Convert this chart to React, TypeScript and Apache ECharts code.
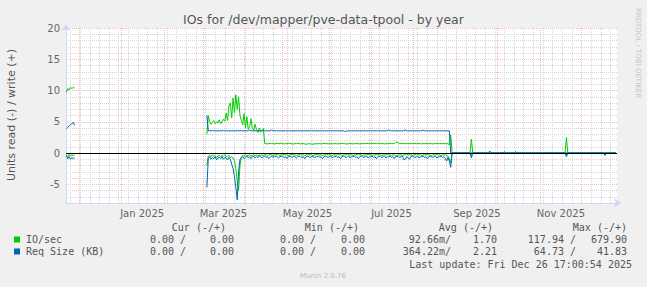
import React, { useEffect, useRef } from "react";
import * as echarts from "echarts";

// ---------- time frame ----------
const GRAPH_START = Date.UTC(2024, 10, 21, 17, 0, 54);
const GRAPH_END = Date.UTC(2025, 11, 26, 17, 0, 54);
const DAY = 86400000;
const d = (s: string) => Date.parse(s + "T00:00:00Z");

// ---------- texts ----------
const TITLE = "IOs for /dev/mapper/pve-data-tpool - by year";
const Y_NAME = "Units read (-) / write (+)";
const SIDE_TEXT = "RRDTOOL / TOBI OETIKER";
const FOOTER = "Munin 2.0.76";
const LAST_UPDATE = "Last update: Fri Dec 26 17:00:54 2025";

// ---------- axes ----------
const Y_MIN = -8;
const Y_MAX = 20;
const Y_MAJOR = [-5, 5, 10, 15, 20];
const MONTH_TICKS = [
  "2024-12-01", "2025-01-01", "2025-02-01", "2025-03-01", "2025-04-01", "2025-05-01", "2025-06-01",
  "2025-07-01", "2025-08-01", "2025-09-01", "2025-10-01", "2025-11-01", "2025-12-01",
];
const MONTH_LABELS: [string, string][] = [
  ["2025-01-16", "Jan 2025"],
  ["2025-03-16", "Mar 2025"],
  ["2025-05-16", "May 2025"],
  ["2025-07-16", "Jul 2025"],
  ["2025-09-16", "Sep 2025"],
  ["2025-11-16", "Nov 2025"],
];

// ---------- series: segment A (Nov 2024), daily ----------
const SEG_A_START = "2024-11-22";
const IO_WRITE_A = [9.7, 10.3, 10.1, 10.5, 10.3, 10.5, 10.4];
const IO_READ_A = [-0.3, -0.6, -0.2, -0.5, -0.3, -0.4, -0.3];
const REQ_WRITE_A = [3.9, 4.1, 4.35, 4.55, 4.7, 4.9, 4.4];
const REQ_READ_A = [-0.4, -0.9, -0.6, -1.0, -0.7, -0.9, -0.8];
const GAP_DATE = "2024-12-15";

// ---------- series: segment B (Mar - Aug 2025), daily ----------
const SEG_B_START = "2025-03-04";
const IO_WRITE_B = [
  3.0, 6.0, 5.0, 4.6, 4.9, 5.2, 4.7, 5.0, 4.8, 5.3,
  4.7, 5.0, 5.4, 5.1, 6.4, 5.2, 7.6, 8.0, 5.6, 8.8,
  6.4, 9.3, 7.0, 9.0, 6.0, 5.2, 4.5, 6.3, 4.0, 5.8,
  3.8, 4.2, 5.5, 3.9, 3.6, 4.6, 3.7, 3.3, 4.0, 3.4,
  3.6, 3.9, 1.5, 1.5, 1.45, 1.5, 1.55, 1.5, 1.5, 1.45,
  1.5, 1.55, 1.5, 1.5, 1.6, 1.5, 1.45, 1.5, 1.5, 1.5,
  1.55, 1.5, 1.45, 1.45, 1.5, 1.5, 1.55, 1.5, 1.45, 1.5,
  1.5, 1.45, 1.4, 1.45, 1.5, 1.45, 1.45, 1.4, 1.45, 1.5,
  1.45, 1.5, 1.5, 1.45, 1.5, 1.55, 1.5, 1.5, 1.45, 1.5,
  1.5, 1.45, 1.5, 1.5, 1.5, 1.45, 1.5, 1.5, 1.55, 1.5,
  1.5, 1.45, 1.45, 1.5, 1.5, 1.5, 1.45, 1.5, 1.5, 1.5,
  1.5, 1.45, 1.5, 1.5, 1.5, 1.5, 1.55, 1.5, 1.5, 1.5,
  1.5, 1.55, 1.5, 1.5, 1.5, 1.6, 1.5, 1.5, 1.5, 1.45,
  1.5, 1.5, 1.5, 1.55, 1.5, 1.5, 1.5, 1.7, 1.75, 1.6,
  1.5, 1.5, 1.55, 1.5, 1.5, 1.5, 1.5, 1.5, 1.5, 1.5,
  1.55, 1.5, 1.5, 1.5, 1.5, 1.5, 1.45, 1.5, 1.5, 1.5,
  1.5, 1.5, 1.5, 1.5, 1.45, 1.5, 1.5, 1.5, 1.5, 1.5,
  1.5, 1.5, 1.5, 1.5, 1.5, 1.5, 1.3, 2.9,
];
const IO_READ_B = [
  -2.0, -0.5, -0.4, -0.6, -0.3, -0.5, -0.4, -0.7, -0.5, -0.4,
  -0.6, -0.4, -0.5, -0.3, -0.6, -0.5, -0.4, -0.7, -0.6, -0.8,
  -1.2, -2.5, -4.5, -6.0, -2.0, -0.6, -0.4, -0.5, -0.3, -0.5,
  -0.4, -0.3, -0.5, -0.4, -0.3, -0.4, -0.3, -0.5, -0.3, -0.4,
  -0.3, -0.4, -0.3, -0.3, -0.4, -0.3, -0.2, -0.3, -0.4, -0.3,
  -0.3, -0.2, -0.3, -0.4, -0.3, -0.3, -0.2, -0.3, -0.3, -0.4,
  -0.3, -0.3, -0.2, -0.3, -0.3, -0.4, -0.3, -0.3, -0.2, -0.3,
  -0.3, -0.4, -0.3, -0.2, -0.3, -0.3, -0.3, -0.4, -0.3, -0.3,
  -0.2, -0.3, -0.3, -0.3, -0.4, -0.3, -0.3, -0.2, -0.3, -0.3,
  -0.3, -0.4, -0.3, -0.3, -0.3, -0.2, -0.3, -0.3, -0.4, -0.3,
  -0.3, -0.3, -0.2, -0.3, -0.3, -0.3, -0.4, -0.3, -0.3, -0.2,
  -0.3, -0.3, -0.3, -0.4, -0.3, -0.3, -0.3, -0.2, -0.3, -0.3,
  -0.4, -0.3, -0.3, -0.3, -0.2, -0.3, -0.3, -0.4, -0.3, -0.3,
  -0.3, -0.2, -0.3, -0.3, -0.4, -0.3, -0.3, -0.5, -0.4, -0.3,
  -0.3, -0.3, -0.4, -0.3, -0.3, -0.2, -0.3, -0.3, -0.3, -0.4,
  -0.3, -0.3, -0.2, -0.3, -0.3, -0.3, -0.4, -0.3, -0.3, -0.3,
  -0.2, -0.3, -0.3, -0.4, -0.3, -0.3, -0.3, -0.2, -0.3, -0.3,
  -0.4, -0.3, -0.3, -0.3, -0.4, -0.5, -0.9, -1.6,
];
const REQ_WRITE_B = [
  6.0, 3.55, 3.55, 3.55, 3.6, 3.55, 3.55, 3.55, 3.55, 3.55,
  3.55, 3.55, 3.6, 3.55, 3.55, 3.55, 3.55, 3.55, 3.55, 3.55,
  3.55, 3.55, 3.55, 3.55, 3.6, 3.55, 3.55, 3.55, 3.55, 3.55,
  3.55, 3.7, 3.55, 3.55, 3.55, 3.55, 3.55, 3.55, 3.55, 3.55,
  3.55, 3.55, 3.55, 3.55, 3.55, 3.55, 3.55, 3.7, 3.55, 3.55,
  3.55, 3.55, 3.55, 3.55, 3.55, 3.55, 3.55, 3.55, 3.55, 3.55,
  3.55, 3.55, 3.55, 3.55, 3.55, 3.55, 3.55, 3.55, 3.55, 3.55,
  3.55, 3.55, 3.55, 3.55, 3.55, 3.55, 3.6, 3.55, 3.55, 3.55,
  3.55, 3.55, 3.55, 3.55, 3.55, 3.55, 3.55, 3.55, 3.55, 3.55,
  3.55, 3.55, 3.55, 3.55, 3.55, 3.55, 3.55, 3.55, 3.55, 3.55,
  3.45, 3.5, 3.55, 3.55, 3.55, 3.55, 3.55, 3.55, 3.55, 3.55,
  3.55, 3.55, 3.55, 3.55, 3.55, 3.55, 3.55, 3.55, 3.55, 3.55,
  3.55, 3.55, 3.55, 3.55, 3.55, 3.55, 3.55, 3.55, 3.55, 3.55,
  3.55, 3.55, 3.7, 3.55, 3.55, 3.55, 3.55, 3.55, 3.55, 3.55,
  3.55, 3.55, 3.55, 3.55, 3.7, 3.55, 3.55, 3.55, 3.55, 3.55,
  3.55, 3.55, 3.55, 3.55, 3.55, 3.55, 3.55, 3.65, 3.55, 3.55,
  3.55, 3.55, 3.55, 3.55, 3.55, 3.55, 3.55, 3.55, 3.55, 3.55,
  3.55, 3.55, 3.55, 3.55, 3.55, 3.55, 3.55, 0.0,
];
const REQ_READ_B = [
  -5.5, -0.8, -0.6, -1.0, -0.7, -0.9, -0.6, -1.1, -0.8, -0.7,
  -0.9, -0.6, -1.0, -0.7, -0.8, -1.1, -0.7, -1.0, -1.8, -2.5,
  -3.8, -5.5, -7.5, -3.0, -1.0, -0.8, -0.6, -0.9, -0.7, -0.5,
  -0.7, -0.6, -0.9, -0.6, -0.5, -0.8, -0.6, -0.7, -0.5, -0.6,
  -0.8, -0.6, -0.5, -0.7, -0.6, -0.9, -0.6, -0.5, -0.7, -0.6,
  -0.5, -0.6, -0.8, -0.6, -0.5, -0.6, -0.7, -0.6, -0.9, -0.6,
  -0.5, -0.6, -0.7, -0.5, -0.6, -0.8, -0.6, -0.5, -0.6, -0.7,
  -0.6, -0.9, -0.6, -0.5, -0.6, -0.7, -0.6, -0.5, -0.8, -0.6,
  -0.6, -0.5, -0.7, -0.6, -0.9, -0.6, -0.5, -0.6, -0.7, -0.6,
  -0.5, -0.8, -0.6, -0.6, -0.5, -0.7, -0.6, -0.9, -0.6, -0.5,
  -0.6, -0.7, -0.6, -0.5, -0.8, -0.6, -0.6, -0.5, -0.7, -0.6,
  -0.9, -0.6, -0.5, -0.6, -0.7, -0.6, -0.5, -0.8, -0.6, -0.6,
  -0.5, -0.7, -0.6, -0.9, -0.6, -0.5, -0.6, -0.7, -0.6, -0.5,
  -0.8, -0.6, -0.6, -0.5, -0.7, -0.6, -0.9, -0.6, -0.5, -0.6,
  -0.7, -0.6, -0.5, -1.1, -1.0, -0.6, -0.7, -1.0, -0.6, -0.5,
  -0.6, -0.7, -0.6, -0.5, -0.8, -0.6, -0.6, -0.5, -0.7, -0.6,
  -0.9, -0.6, -0.5, -0.6, -0.7, -0.6, -0.5, -0.8, -0.6, -0.6,
  -0.5, -0.7, -0.6, -0.8, -1.3, -0.7, -1.3, -2.3,
];

// ---------- series: sparse tail (Aug - Dec 2025) ----------
const IO_WRITE_TAIL: [string, number][] = [
  ["2025-08-29", 0], ["2025-09-11", 0], ["2025-09-12", 2.2], ["2025-09-13", 0],
  ["2025-11-19", 0], ["2025-11-20", 2.5], ["2025-11-21", 0], ["2025-12-26", 0],
];
const IO_READ_TAIL: [string, number][] = [
  ["2025-08-29", 0], ["2025-09-11", 0], ["2025-09-12", -0.4], ["2025-09-13", 0],
  ["2025-11-19", 0], ["2025-11-20", -0.3], ["2025-11-21", 0], ["2025-12-26", 0],
];
const REQ_WRITE_TAIL: [string, number][] = [
  ["2025-09-24", 0], ["2025-09-25", 0.25], ["2025-09-26", 0.2], ["2025-09-27", 0],
  ["2025-10-05", 0], ["2025-10-06", 0.2], ["2025-10-07", 0],
  ["2025-10-13", 0], ["2025-10-14", 0.25], ["2025-10-15", 0], ["2025-12-26", 0],
];
const REQ_READ_TAIL: [string, number][] = [
  ["2025-08-29", 0], ["2025-09-11", 0], ["2025-09-12", -0.8], ["2025-09-13", 0],
  ["2025-11-19", 0], ["2025-11-20", -0.6], ["2025-11-21", 0],
  ["2025-12-17", 0], ["2025-12-18", -0.4], ["2025-12-19", 0], ["2025-12-26", 0],
];

// ---------- legend ----------
const LEGEND_HEADERS = ["Cur (-/+)", "Min (-/+)", "Avg (-/+)", "Max (-/+)"];
const LEGEND_ROWS = [
  { name: "IO/sec", color: "#00CC00", stats: [["0.00 /", "0.00"], ["0.00 /", "0.00"], ["92.66m/", "1.70"], ["117.94 /", "679.90"]] },
  { name: "Req Size (KB)", color: "#0066B3", stats: [["0.00 /", "0.00"], ["0.00 /", "0.00"], ["364.22m/", "2.21"], ["64.73 /", "41.83"]] },
];

// ---------- layout ----------
const W = 647;
const H = 287;
const GRID = { left: 66, top: 28, width: 551, height: 175 };
const SANS = '"DejaVu Sans", sans-serif';
const MONO = '"DejaVu Sans Mono", monospace';
const HEADER_RIGHT = [226, 359, 493, 627];
const LEFT_RIGHT = [186, 316, 451, 576];
const VALUE_RIGHT = [234, 365, 497, 627];
const ROW_Y = [239.5, 251.5];
const MINOR_GRID = "#d6d6d6";
const MAJOR_GRID = "#f5bcbc";

const daily = (start: string, vals: number[]) => vals.map((v, i) => [d(start) + i * DAY, v]);
const sparse = (pts: [string, number][]) => pts.map(([s, v]) => [d(s), v]);
const build = (a: number[], b: number[], tail: [string, number][]) => [
  ...daily(SEG_A_START, a),
  [d(GAP_DATE), null],
  ...daily(SEG_B_START, b),
  ...sparse(tail),
];

function weeklyLines() {
  const out: number[] = [];
  for (let t = d("2024-11-25"); t < GRAPH_END; t += 7 * DAY) out.push(t);
  return out;
}

export default function App() {
  const ref = useRef<HTMLDivElement>(null);
  useEffect(() => {
    const el = ref.current!;
    const chart = echarts.init(el, null, { renderer: "svg" });

    const labelMap: Record<number, string> = {};
    MONTH_LABELS.forEach(([s, l]) => (labelMap[d(s)] = l));

    const gridMarks: any[] = [
      ...weeklyLines().map((t) => ({ xAxis: t, lineStyle: { color: MINOR_GRID, type: [1, 1], width: 1 } })),
      ...MONTH_TICKS.map((s) => ({ xAxis: d(s), lineStyle: { color: MAJOR_GRID, type: [1, 1], width: 1 } })),
      ...Y_MAJOR.map((v) => ({ yAxis: v, lineStyle: { color: MAJOR_GRID, type: [1, 1], width: 1 } })),
    ];

    const lineSeries = (name: string, color: string, data: any[], extra: any = {}) => ({
      type: "line",
      name,
      data,
      showSymbol: false,
      symbol: "none",
      connectNulls: false,
      lineStyle: { color, width: 1 },
      itemStyle: { color },
      silent: true,
      z: 2,
      ...extra,
    });

    const graphic: any[] = [
      { type: "text", x: W / 2, y: 19, style: { text: TITLE, fill: "#555", fontSize: 12.5, fontFamily: SANS, align: "center", verticalAlign: "middle" } },
      { type: "text", x: 11, y: 115, rotation: Math.PI / 2, style: { text: Y_NAME, fill: "#555", fontSize: 11, fontFamily: SANS, align: "center", verticalAlign: "middle" } },
      { type: "text", x: 638, y: 53, rotation: -Math.PI / 2, style: { text: SIDE_TEXT, fill: "#c4c4c4", fontSize: 7, fontFamily: SANS, align: "center", verticalAlign: "middle" } },
      { type: "text", x: 323, y: 276, style: { text: FOOTER, fill: "#bbbbbb", fontSize: 7, fontFamily: SANS, align: "center", verticalAlign: "middle" } },
      { type: "text", x: 632, y: 264, style: { text: LAST_UPDATE, fill: "#555", fontSize: 10, fontFamily: MONO, align: "right", verticalAlign: "middle" } },
    ];
    LEGEND_HEADERS.forEach((h, i) =>
      graphic.push({ type: "text", x: HEADER_RIGHT[i], y: 227.5, style: { text: h, fill: "#555", fontSize: 10, fontFamily: MONO, align: "right", verticalAlign: "middle" } })
    );
    LEGEND_ROWS.forEach((row, r) => {
      const y = ROW_Y[r];
      graphic.push({ type: "rect", shape: { x: 14, y: y - 3, width: 6, height: 6 }, style: { fill: row.color } });
      graphic.push({ type: "text", x: 26, y, style: { text: row.name, fill: "#555", fontSize: 10, fontFamily: MONO, align: "left", verticalAlign: "middle" } });
      row.stats.forEach(([a, b], i) => {
        graphic.push({ type: "text", x: LEFT_RIGHT[i], y, style: { text: a, fill: "#555", fontSize: 10, fontFamily: MONO, align: "right", verticalAlign: "middle" } });
        graphic.push({ type: "text", x: VALUE_RIGHT[i], y, style: { text: b, fill: "#555", fontSize: 10, fontFamily: MONO, align: "right", verticalAlign: "middle" } });
      });
    });

    chart.setOption({
      animation: false,
      backgroundColor: "#F0F0F0",
      grid: { ...GRID, show: true, backgroundColor: "#FFFFFF", borderWidth: 0, containLabel: false },
      xAxis: {
        type: "value",
        min: GRAPH_START,
        max: GRAPH_END,
        axisLine: {
          show: true,
          onZero: false,
          lineStyle: { color: "#CFD6F8", width: 1 },
          symbol: ["none", "arrow"],
          symbolSize: [7, 7],
          symbolOffset: [0, 4],
        },
        axisTick: { show: false },
        splitLine: { show: false },
        axisLabel: {
          customValues: MONTH_LABELS.map(([s]) => d(s)),
          formatter: (v: number) => labelMap[v] || "",
          color: "#666",
          fontSize: 10,
          fontFamily: SANS,
          margin: 5,
        },
      },
      yAxis: {
        type: "value",
        min: Y_MIN,
        max: Y_MAX,
        interval: 1,
        axisLine: {
          show: true,
          onZero: false,
          lineStyle: { color: "#CFD6F8", width: 1 },
          symbol: ["none", "arrow"],
          symbolSize: [7, 7],
          symbolOffset: [0, 4],
        },
        axisTick: { show: false },
        axisLabel: {
          formatter: (v: number) => (v % 5 === 0 ? String(v) : ""),
          color: "#666",
          fontSize: 10,
          fontFamily: SANS,
          margin: 6,
        },
        splitLine: { show: true, lineStyle: { color: MINOR_GRID, type: [1, 1], width: 1 } },
      },
      graphic,
      series: [
        lineSeries("IO/sec write", "#00CC00", build(IO_WRITE_A, IO_WRITE_B, IO_WRITE_TAIL), {
          markLine: { silent: true, symbol: ["none", "none"], label: { show: false }, z: 1, animation: false, data: gridMarks },
        }),
        lineSeries("IO/sec read", "#00CC00", build(IO_READ_A, IO_READ_B, IO_READ_TAIL)),
        lineSeries("Req Size write", "#0066B3", build(REQ_WRITE_A, REQ_WRITE_B, REQ_WRITE_TAIL)),
        lineSeries("Req Size read", "#0066B3", build(REQ_READ_A, REQ_READ_B, REQ_READ_TAIL), {
          markLine: {
            silent: true,
            symbol: ["none", "none"],
            label: { show: false },
            z: 6,
            animation: false,
            data: [{ yAxis: 0, lineStyle: { color: "#000000", type: "solid", width: 1 } }],
          },
        }),
      ],
    });
    return () => chart.dispose();
  }, []);
  return <div ref={ref} style={{ position: "fixed", left: 0, top: 0, width: W, height: H }} />;
}
